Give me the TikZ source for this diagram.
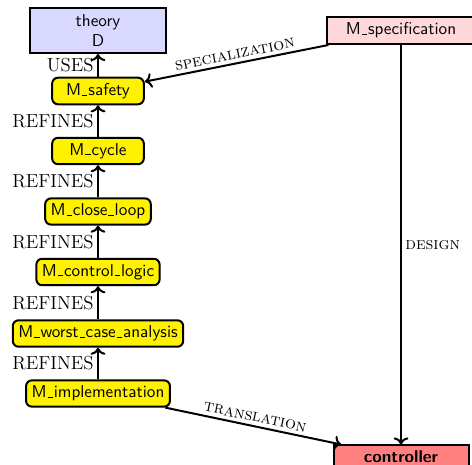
\documentclass[tikz,border=0pt]{standalone}
\usetikzlibrary{arrows.meta}
% short underscore rule, as in the classic \_ of OT1 fonts
\newcommand{\us}{\leavevmode\kern.06em\vbox{\hrule width .3em height .45pt}\kern.06em}
\begin{document}
\begin{tikzpicture}[x=0.6pt,y=-0.6pt,
  box/.style={draw, line width=1.2pt, font=\fontsize{10.3}{12.4}\selectfont\sffamily, inner sep=3.3pt},
  model/.style={box, fill=yellow, rounded corners=3.5pt, minimum width=55pt, minimum height=15.6pt},
  theorybox/.style={box, fill=blue!15, align=center, minimum width=81.6pt, minimum height=27pt},
  specbox/.style={box, fill=red!15, minimum width=89pt, minimum height=16.2pt},
  ctrlbox/.style={box, fill=red!50, font=\fontsize{10.3}{12.4}\selectfont\sffamily\bfseries, minimum width=81pt, minimum height=13pt},
  rel/.style={draw, line width=1.2pt},
  lbl/.style={font=\fontsize{11.3}{13}\selectfont, inner sep=2pt},
  sclbl/.style={font=\fontsize{10.3}{12}\selectfont\scshape, inner sep=2pt}]
\useasboundingbox (0,0) rectangle (472,464);

% theory and specification
\node[theorybox] (theory) at (98,30.5) {theory\\D};
\node[specbox] (spec) at (401,30.5) {M\us specification};

% refinement chain
\node[model] (safety) at (98,91) {M\us safety};
\node[model] (cycle) at (98,151) {M\us cycle};
\node[model] (close) at (98,211.5) {M\us close\us loop};
\node[model] (logic) at (98,272) {M\us control\us logic};
\node[model] (worst) at (98,333.5) {M\us worst\us case\us analysis};
\node[model] (impl) at (98,393.5) {M\us implementation};

% generated code
\node[ctrlbox] (ctrl) at (401,457) {controller};

% relations
\draw[rel,->] (safety) -- node[lbl,left] {USES} (theory);
\draw[rel,->] (cycle) -- node[lbl,left] {REFINES} (safety);
\draw[rel,->] (close) -- node[lbl,left] {REFINES} (cycle);
\draw[rel,->] (logic) -- node[lbl,left] {REFINES} (close);
\draw[rel,->] (worst) -- node[lbl,left] {REFINES} (logic);
\draw[rel,->] (impl) -- node[lbl,left] {REFINES} (worst);

\draw[rel,<-] (safety) -- node[sclbl,above,sloped] {specialization} (spec);
\draw[rel,->] (spec) -- node[sclbl,right] {design} (ctrl);
\draw[rel,->] (impl) -- node[sclbl,above,sloped] {translation} (ctrl);
\end{tikzpicture}
\end{document}
